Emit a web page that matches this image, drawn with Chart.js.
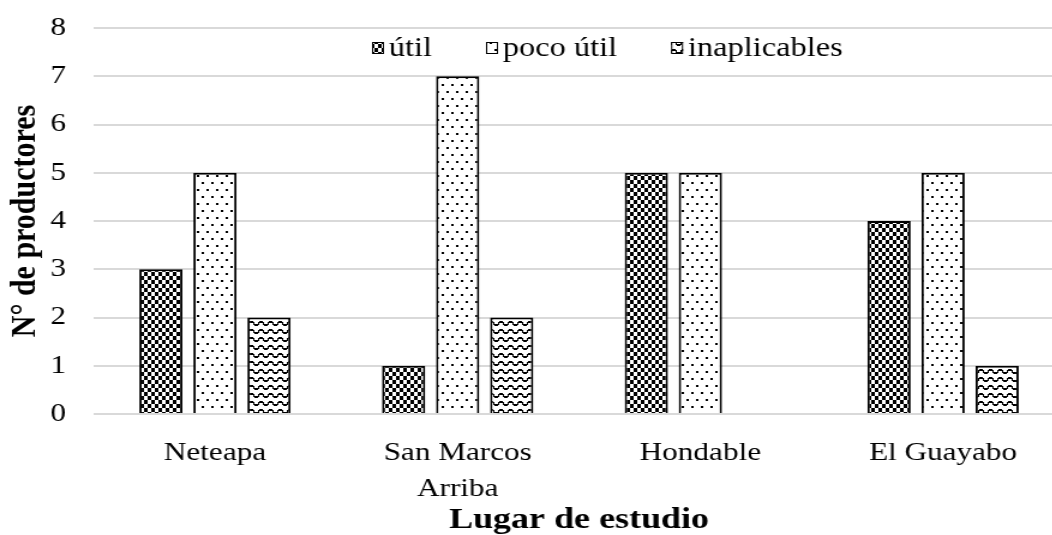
<!DOCTYPE html>
<html>
<head>
<meta charset="utf-8">
<script src="https://cdn.jsdelivr.net/npm/chart.js@4/dist/chart.umd.min.js"></script>
<style>
  html, body { margin: 0; padding: 0; background: #fff; overflow: hidden; }
  /* the reference image is stretched horizontally, so the chart is too */
  #wrap { width: 888px; height: 535px; transform: scaleX(1.2); transform-origin: 0 0; }
</style>
</head>
<body>
<div id="wrap"><canvas id="chart"></canvas></div>
<script>
// data
const categories = ['Neteapa', ['San Marcos', 'Arriba'], 'Hondable', 'El Guayabo'];
const seriesNames = ['útil', 'poco útil', 'inaplicables'];
const utilValues = [3, 1, 5, 4];
const pocoUtilValues = [5, 7, 5, 5];
const inaplicablesValues = [2, 2, 0, 1];
const yTicks = [0, 1, 2, 3, 4, 5, 6, 7, 8];
const yTitle = 'N° de productores';
const xTitle = 'Lugar de estudio';

// fill patterns
function makePattern(w, h, draw) {
  const c = document.createElement('canvas');
  c.width = w; c.height = h;
  const g = c.getContext('2d');
  g.fillStyle = '#fff';
  g.fillRect(0, 0, w, h);
  g.fillStyle = '#000';
  draw(g);
  return document.getElementById('chart').getContext('2d').createPattern(c, 'repeat');
}

const checker = makePattern(6, 8, g => {
  g.fillRect(0, 0, 3, 4);
  g.fillRect(3, 4, 3, 4);
});
const dots = makePattern(8, 14, g => {
  g.fillRect(0, 0, 2, 2);
  g.fillRect(4, 7, 2, 2);
});
const wave = makePattern(8, 8, g => {
  g.fillRect(0, 1, 3, 2);
  g.fillRect(3, 2, 1, 3);
  g.fillRect(4, 4, 3, 2);
  g.fillRect(7, 2, 1, 3);
});
const patterns = [checker, dots, wave];

const serif = "'Liberation Serif', 'Times New Roman', serif";

// legend drawn inside the plot, as in the reference
const innerLegend = {
  id: 'innerLegend',
  afterDraw(chart) {
    const ctx = chart.ctx;
    let x = 310;
    const y = 48;
    ctx.save();
    ctx.font = '27px ' + serif;
    ctx.textBaseline = 'middle';
    ctx.textAlign = 'left';
    chart.data.datasets.forEach(ds => {
      ctx.fillStyle = ds.backgroundColor;
      ctx.fillRect(x, y - 6, 10, 12);
      ctx.strokeStyle = '#000';
      ctx.lineWidth = 1;
      ctx.strokeRect(x + 0.5, y - 5.5, 9, 11);
      ctx.fillStyle = '#000';
      ctx.fillText(ds.label, x + 14, y + 1);
      x += 14 + ctx.measureText(ds.label).width + 45;
    });
    ctx.restore();
  }
};

const allValues = [utilValues, pocoUtilValues, inaplicablesValues];

function drawChart() {
  new Chart(document.getElementById('chart'), {
    type: 'bar',
    data: {
      labels: categories,
      datasets: seriesNames.map((name, i) => ({
        label: name,
        data: allValues[i],
        backgroundColor: patterns[i],
        borderColor: '#000',
        borderWidth: 2,
        categoryPercentage: 0.668,
        barPercentage: 0.8
      }))
    },
    options: {
      responsive: true,
      maintainAspectRatio: false,
      animation: false,
      layout: { autoPadding: false, padding: { top: 28, right: 1, bottom: 0, left: 0 } },
      plugins: {
        legend: { display: false },
        tooltip: { enabled: false }
      },
      scales: {
        x: {
          grid: { display: false },
          border: { display: false },
          ticks: {
            color: '#000',
            font: { family: serif, size: 26, lineHeight: 1.38 },
            padding: 13,
            maxRotation: 0,
            autoSkip: false
          },
          title: {
            display: true,
            text: xTitle,
            color: '#000',
            font: { family: serif, size: 30, weight: 'bold', lineHeight: 1.0 },
            padding: { top: 0, bottom: 0 }
          },
          afterFit(scale) { scale.height = 121; }
        },
        y: {
          min: yTicks[0],
          max: yTicks[yTicks.length - 1],
          // invisible tick marks keep the labels away from the plot
          grid: { color: '#d9d9d9', lineWidth: 2, drawTicks: true, tickLength: 23, tickColor: 'rgba(0,0,0,0)' },
          border: { display: false },
          ticks: {
            stepSize: 1,
            color: '#000',
            font: { family: serif, size: 26 },
            padding: 0
          },
          title: {
            display: true,
            text: yTitle,
            color: '#000',
            font: { family: serif, size: 30, weight: 'bold', lineHeight: 1.2 },
            padding: { top: 3, bottom: 0 }
          },
          afterFit(scale) { scale.width = 78; }
        }
      }
    },
    plugins: [innerLegend]
  });
}

// make sure the serif font is ready before the canvas draws text
Promise.all([
  document.fonts.load('26px "Liberation Serif"'),
  document.fonts.load('bold 30px "Liberation Serif"')
]).then(drawChart, drawChart);
</script>
</body>
</html>
